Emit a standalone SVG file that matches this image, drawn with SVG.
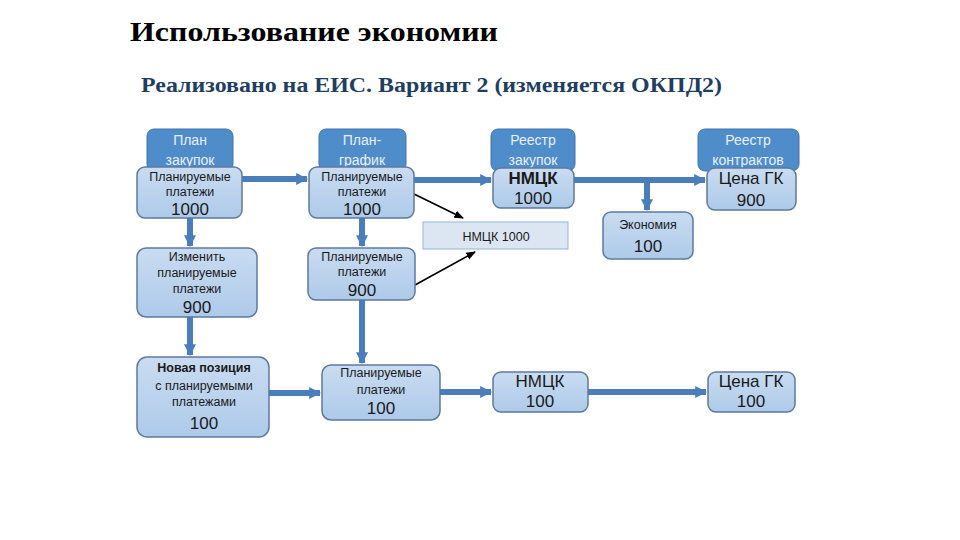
<svg xmlns="http://www.w3.org/2000/svg" width="960" height="540" viewBox="0 0 960 540">
<defs>
<linearGradient id="gBox" x1="0" y1="0" x2="0" y2="1">
<stop offset="0" stop-color="#C9DCF1"/>
<stop offset="1" stop-color="#AECAE9"/>
</linearGradient>
<marker id="ah" viewBox="0 0 10 10" refX="9" refY="5" markerWidth="2" markerHeight="2.2" markerUnits="strokeWidth" orient="auto">
<path d="M0,0 L10,5 L0,10 Z" fill="#4A7EBB"/>
</marker>
<marker id="ahk" viewBox="0 0 10 10" refX="9" refY="5" markerWidth="6" markerHeight="6" markerUnits="strokeWidth" orient="auto">
<path d="M0,1 L10,5 L0,9 Z" fill="#000"/>
</marker>
</defs>
<style>
.box{fill:url(#gBox);stroke:#5C7A9E;stroke-width:1.5}
.tab{fill:#4F8CCA;stroke:#3F74AD;stroke-width:1}
.plain{fill:#DCE6F2;stroke:#95B3D7;stroke-width:1}
.t{font-family:"Liberation Sans",Arial,sans-serif;text-anchor:middle;fill:#1A1A1A}
.s{font-size:12.5px}
.n{font-size:17px}
.w{fill:#E8F0FA;font-size:14px}
.b{font-weight:bold}
.thick{stroke:#4A7EBB;stroke-width:6;fill:none;marker-end:url(#ah)}
.thin{stroke:#000;stroke-width:1.6;fill:none;marker-end:url(#ahk)}
</style>
<rect width="960" height="540" fill="#fff"/>
<text x="130" y="41" font-family="'Liberation Serif',serif" font-weight="bold" font-size="28" textLength="368" lengthAdjust="spacingAndGlyphs" fill="#000">Использование экономии</text>
<text x="141" y="92" font-family="'Liberation Serif',serif" font-weight="bold" font-size="20.5" textLength="581" lengthAdjust="spacingAndGlyphs" fill="#1F3F60">Реализовано на ЕИС. Вариант 2 (изменяется ОКПД2)</text>

<g id="connectors">
<line class="thick" x1="241" y1="179" x2="307" y2="179"/>
<line class="thick" x1="414" y1="180" x2="491" y2="180"/>
<line class="thick" x1="574" y1="180" x2="705" y2="180"/>
<line class="thick" x1="647" y1="180" x2="647" y2="210"/>
<line class="thick" x1="190" y1="218" x2="190" y2="246"/>
<line class="thick" x1="190" y1="317" x2="190" y2="355"/>
<line class="thick" x1="362" y1="218" x2="362" y2="246"/>
<line class="thick" x1="362" y1="300" x2="362" y2="363"/>
<line class="thick" x1="269" y1="393" x2="320" y2="393"/>
<line class="thick" x1="440" y1="392" x2="491" y2="392"/>
<line class="thick" x1="588" y1="392" x2="706" y2="392"/>
<line class="thin" x1="414" y1="194" x2="463" y2="218"/>
<line class="thin" x1="415" y1="285" x2="475" y2="252"/>
</g>

<g id="plan-zakupok">
<rect class="tab" x="147" y="129" width="86" height="42" rx="7"/>
<text class="t w" x="190" y="145">План</text>
<text class="t w" x="190" y="165">закупок</text>
<rect class="box" x="137" y="167" width="105" height="51" rx="8"/>
<text class="t s" x="190" y="181">Планируемые</text>
<text class="t s" x="190" y="196">платежи</text>
<text class="t n" x="190" y="215">1000</text>
</g>

<g id="plan-grafik">
<rect class="tab" x="319" y="129" width="87" height="42" rx="7"/>
<text class="t w" x="362" y="145">План-</text>
<text class="t w" x="362" y="165">график</text>
<rect class="box" x="309" y="167" width="105" height="51" rx="8"/>
<text class="t s" x="362" y="181">Планируемые</text>
<text class="t s" x="362" y="196">платежи</text>
<text class="t n" x="362" y="215">1000</text>
</g>

<g id="reestr-zakupok">
<rect class="tab" x="491" y="129" width="84" height="42" rx="7"/>
<text class="t w" x="533" y="145">Реестр</text>
<text class="t w" x="533" y="165">закупок</text>
<rect class="box" x="493" y="168" width="81" height="40" rx="8"/>
<text class="t n" x="533" y="184" font-weight="bold" fill="#222">НМЦК</text>
<text class="t n" x="533" y="204">1000</text>
</g>

<g id="reestr-kontraktov">
<rect class="tab" x="698" y="129" width="101" height="42" rx="7"/>
<text class="t w" x="748" y="145">Реестр</text>
<text class="t w" x="748" y="165">контрактов</text>
<rect class="box" x="707" y="168" width="89" height="42" rx="8"/>
<text class="t n" x="751" y="184">Цена ГК</text>
<text class="t n" x="751" y="206">900</text>
</g>

<g id="nmck-1000">
<rect class="plain" x="423" y="222" width="145" height="27"/>
<text class="t s" x="496" y="241">НМЦК 1000</text>
</g>

<g id="ekonomiya">
<rect class="box" x="603" y="212" width="90" height="47" rx="8"/>
<text class="t s" x="648" y="229" font-size="13">Экономия</text>
<text class="t n" x="648" y="252">100</text>
</g>

<g id="izmenit">
<rect class="box" x="137" y="248" width="120" height="69" rx="9"/>
<text class="t s" x="197" y="261">Изменить</text>
<text class="t s" x="197" y="277">планируемые</text>
<text class="t s" x="197" y="293">платежи</text>
<text class="t n" x="197" y="313">900</text>
</g>

<g id="plan-900">
<rect class="box" x="308" y="248" width="107" height="52" rx="8"/>
<text class="t s" x="362" y="261">Планируемые</text>
<text class="t s" x="362" y="276">платежи</text>
<text class="t n" x="362" y="296">900</text>
</g>

<g id="novaya-poziciya">
<rect class="box" x="137" y="357" width="132" height="80" rx="10"/>
<text class="t s b" x="204" y="372">Новая позиция</text>
<text class="t s" x="204" y="390">с планируемыми</text>
<text class="t s" x="204" y="406">платежами</text>
<text class="t n" x="204" y="429">100</text>
</g>

<g id="plan-100">
<rect class="box" x="322" y="365" width="118" height="55" rx="9"/>
<text class="t s" x="381" y="377">Планируемые</text>
<text class="t s" x="381" y="394">платежи</text>
<text class="t n" x="381" y="414">100</text>
</g>

<g id="nmck-100">
<rect class="box" x="493" y="372" width="95" height="40" rx="8"/>
<text class="t n" x="540" y="387">НМЦК</text>
<text class="t n" x="540" y="407">100</text>
</g>

<g id="cena-100">
<rect class="box" x="708" y="372" width="87" height="40" rx="8"/>
<text class="t n" x="751" y="387">Цена ГК</text>
<text class="t n" x="751" y="407">100</text>
</g>
</svg>
